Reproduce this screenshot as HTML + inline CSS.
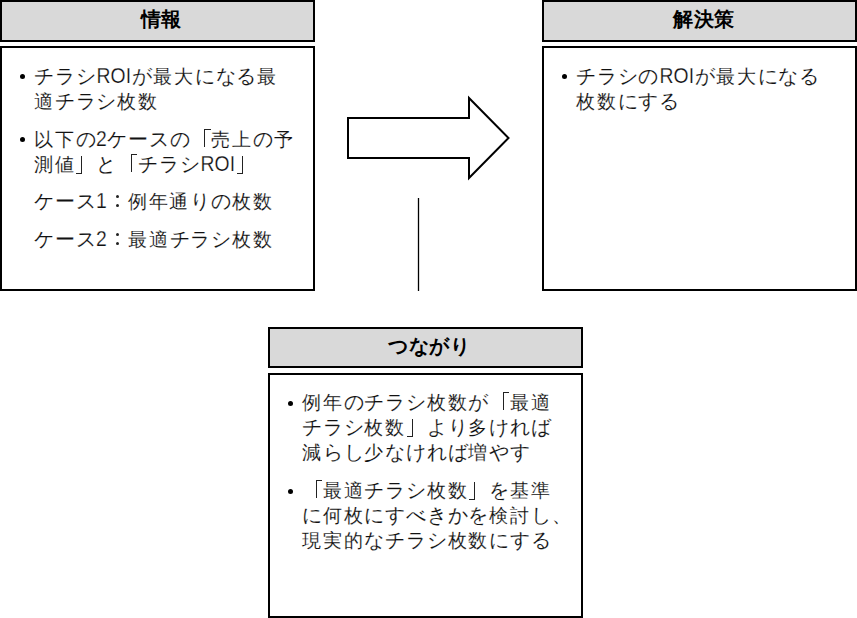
<!DOCTYPE html>
<html lang="ja">
<head>
<meta charset="utf-8">
<style>
html,body{margin:0;padding:0;background:#fff;}
body{width:857px;height:618px;position:relative;overflow:hidden;font-family:"Liberation Sans",sans-serif;}
.hd{position:absolute;box-sizing:border-box;border:2px solid #000;background:#d9d9d9;width:315px;}
.bx{position:absolute;box-sizing:border-box;border:2px solid #000;background:#fff;width:315px;}
.ht{position:absolute;font-weight:bold;font-size:20px;line-height:30px;letter-spacing:0.5px;color:#000;white-space:nowrap;}
.t{position:absolute;font-size:19px;line-height:30px;letter-spacing:1.8px;color:#111;-webkit-text-stroke:0.12px #fff;white-space:nowrap;}
.k{font-size:20px;letter-spacing:0.8px;}
.l{display:inline-block;width:35.3px;padding-left:0.7px;font-size:22px;letter-spacing:0;transform:scaleX(0.88);transform-origin:0 0;-webkit-text-stroke:0.25px #fff;}
.d{display:inline-block;width:10.7px;font-size:22px;letter-spacing:0;transform:scaleX(0.88);transform-origin:0 0;-webkit-text-stroke:0.25px #fff;}
.ob,.cb,.cl{display:inline-block;width:20.8px;height:30px;vertical-align:top;position:relative;overflow:hidden;color:transparent;-webkit-text-stroke:0 transparent;letter-spacing:0;}
.ob::after{content:'';position:absolute;left:13.7px;top:5px;width:5.5px;height:17px;border-left:1px solid #222;border-top:1px solid #222;}
.cb::after{content:'';position:absolute;left:0.6px;top:7px;width:5px;height:17px;border-right:1px solid #222;border-bottom:1px solid #222;}
.cl::before,.cl::after{content:'';position:absolute;left:8.8px;width:3px;height:3px;border-radius:50%;background:#222;}
.cl::before{top:8.9px;}
.cl::after{top:18px;}
.b{position:absolute;width:5px;height:5px;border-radius:50%;background:#000;}
</style>
</head>
<body>
<div class="hd" style="left:0px;top:0px;height:42px;"></div>
<div class="ht" style="left:140.5px;top:4px;">情報</div>
<div class="bx" style="left:0px;top:46px;height:245px;"></div>
<div class="b" style="left:20px;top:74px;"></div>
<div class="b" style="left:20px;top:137px;"></div>
<div class="t" style="left:34px;top:61px;"><span class="k">チラシ</span><span class="l">ROI</span><span class="k">が</span>最大<span class="k">になる</span>最</div>
<div class="t" style="left:34px;top:86px;">適<span class="k">チラシ</span>枚数</div>
<div class="t" style="left:34px;top:124px;">以下<span class="k">の</span><span class="d">2</span><span class="k">ケースの</span><span class="ob">「</span>売上<span class="k">の</span>予</div>
<div class="t" style="left:34px;top:149px;">測値<span class="cb">」</span><span class="k">と</span><span class="ob">「</span><span class="k">チラシ</span><span class="l">ROI</span><span class="cb">」</span></div>
<div class="t" style="left:34px;top:186px;"><span class="k">ケース</span><span class="d">1</span><span class="cl">：</span>例年通<span class="k">りの</span>枚数</div>
<div class="t" style="left:34px;top:224px;"><span class="k">ケース</span><span class="d">2</span><span class="cl">：</span>最適<span class="k">チラシ</span>枚数</div>
<div class="hd" style="left:542px;top:0px;height:42px;"></div>
<div class="ht" style="left:673px;top:4px;">解決策</div>
<div class="bx" style="left:542px;top:46px;height:245px;"></div>
<div class="b" style="left:562px;top:74px;"></div>
<div class="t" style="left:576px;top:61px;"><span class="k">チラシの</span><span class="l">ROI</span><span class="k">が</span>最大<span class="k">になる</span></div>
<div class="t" style="left:576px;top:86px;">枚数<span class="k">にする</span></div>
<div class="hd" style="left:268px;top:327px;height:41px;"></div>
<div class="ht" style="left:388px;top:331px;">つながり</div>
<div class="bx" style="left:268px;top:373px;height:245px;"></div>
<div class="b" style="left:288px;top:401px;"></div>
<div class="b" style="left:288px;top:489px;"></div>
<div class="t" style="left:302px;top:387px;">例年<span class="k">のチラシ</span>枚数<span class="k">が</span><span class="ob">「</span>最適</div>
<div class="t" style="left:302px;top:412px;"><span class="k">チラシ</span>枚数<span class="cb">」</span><span class="k">より</span>多<span class="k">ければ</span></div>
<div class="t" style="left:302px;top:437px;">減<span class="k">らし</span>少<span class="k">なければ</span>増<span class="k">やす</span></div>
<div class="t" style="left:302px;top:475px;"><span class="ob">「</span>最適<span class="k">チラシ</span>枚数<span class="cb">」</span><span class="k">を</span>基準</div>
<div class="t" style="left:302px;top:500px;"><span class="k">に</span>何枚<span class="k">にすべきかを</span>検討<span class="k">し</span>、</div>
<div class="t" style="left:302px;top:525px;">現実的<span class="k">なチラシ</span>枚数<span class="k">にする</span></div>
<svg style="position:absolute;left:0;top:0;" width="857" height="618">
<polygon points="348,118 469,118 469,98 508.5,138 469,178 469,158 348,158" fill="#fff" stroke="#000" stroke-width="2" stroke-linejoin="miter"/>
<line x1="418.5" y1="198" x2="418.5" y2="291" stroke="#000" stroke-width="1.3"/>
</svg>
</body>
</html>
